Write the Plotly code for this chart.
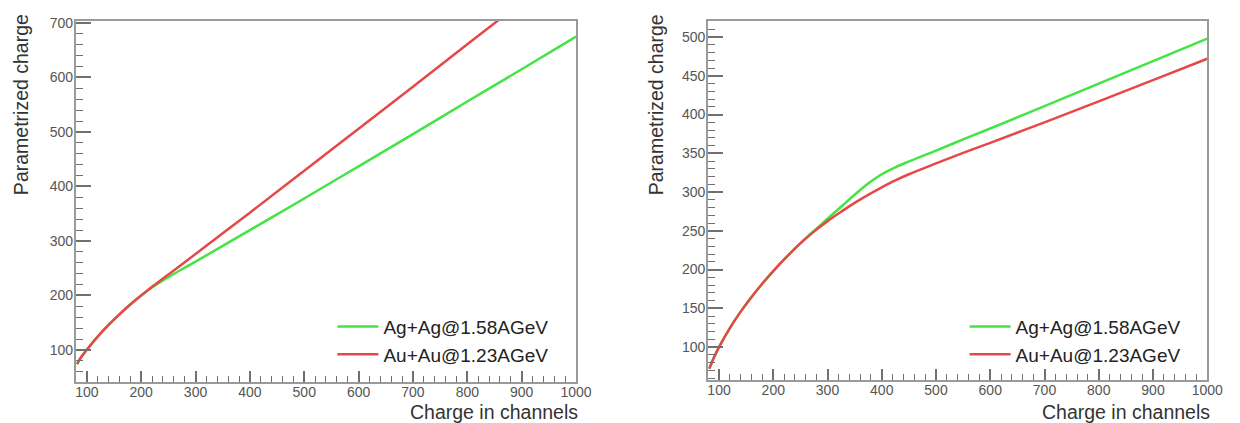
import plotly.graph_objects as go

W, H = 1240, 423

# ---------------- data ----------------
left_x = [82, 90, 100, 120, 140, 160, 180, 200, 220, 240, 260, 300, 400, 500, 600, 700, 800, 900, 1000]
left_ag = [74, 87.5, 100.5, 124.5, 146, 165.5, 183.5, 200, 214.5, 227.5, 239.5, 262, 320, 378, 437, 496, 556, 615, 675]
left_au = [74, 87.5, 100.5, 124.5, 146, 165.5, 183.5, 200, 216, 231, 246, 276, 352, 429, 506, 583, 661, 738, 816]

right_x = [82, 90, 100, 120, 140, 160, 180, 200, 225, 250, 275, 300, 325, 350, 375, 400, 425, 450,
           500, 550, 600, 700, 800, 900, 1000]
right_ag = [72, 85.6, 100, 124.5, 145.7, 164.7, 182.1, 198.1, 216.6, 234, 250, 265.5, 281, 296.5, 311,
            323, 332, 339.5, 353.5, 368, 382, 411, 440, 469, 498]
right_au = [72, 85.6, 100, 124.5, 145.7, 164.7, 182.1, 198.1, 216.6, 233.8, 249, 262.5, 274.5, 286, 296.4,
            306, 315, 323, 337, 350.5, 363.5, 390, 417, 444.5, 472]

label_ag = "Ag+Ag@1.58AGeV"
label_au = "Au+Au@1.23AGeV"
x_title = "Charge in channels"
y_title = "Parametrized charge"

GREEN = "#44e444"
RED = "#e64848"
FONT = "Liberation Sans, Arial, sans-serif"

fig = go.Figure()

def add(x, y, name, color, xa, ya, leg):
    fig.add_trace(go.Scatter(x=x, y=y, mode="lines", name=name,
                             line=dict(color=color, width=2.5, shape="spline", smoothing=1.0),
                             xaxis=xa, yaxis=ya, legend=leg, showlegend=True))

add(left_x, left_ag, label_ag, GREEN, "x", "y", "legend")
add(left_x, left_au, label_au, RED, "x", "y", "legend")
add(right_x, right_ag, label_ag, GREEN, "x2", "y2", "legend2")
add(right_x, right_au, label_au, RED, "x2", "y2", "legend2")

AX = "#9a9a9a"
TICKC = "#707070"

def xaxis(domain, anchor):
    return dict(domain=domain, anchor=anchor, range=[80, 1000], tick0=0, dtick=100,
                ticks="inside", ticklen=11, tickwidth=1.5, tickcolor=TICKC,
                showline=True, linecolor=AX, linewidth=2, mirror=True,
                showgrid=False, zeroline=False, ticklabelstandoff=-3,
                tickfont=dict(family=FONT, size=14, color="#555555"),
                minor=dict(ticks="inside", ticklen=6, dtick=20, tickwidth=1.2,
                           tickcolor=TICKC, showgrid=False))

def yaxis(domain, anchor, rng, dt, mdt):
    return dict(domain=domain, anchor=anchor, range=rng, tick0=0, dtick=dt,
                ticks="inside", ticklen=15, tickwidth=1.5, tickcolor=TICKC,
                showline=True, linecolor=AX, linewidth=2, mirror=True,
                showgrid=False, zeroline=False, ticklabelstandoff=-2,
                tickfont=dict(family=FONT, size=14, color="#555555"),
                minor=dict(ticks="inside", ticklen=7, dtick=mdt, tickwidth=1.2,
                           tickcolor=TICKC, showgrid=False))

def px(xp):
    return xp / W

def py(yp):
    return 1 - yp / H

leg_common = dict(xanchor="left", yanchor="top", bgcolor="rgba(0,0,0,0)", borderwidth=0,
                  font=dict(family=FONT, size=19, color="#222222"), tracegroupgap=0,
                  itemwidth=41)

fig.update_layout(
    width=W, height=H, margin=dict(l=0, r=0, t=0, b=0),
    paper_bgcolor="white", plot_bgcolor="white",
    font=dict(family=FONT),
    xaxis=xaxis([px(76), px(583)], "y"),
    yaxis=yaxis([py(381), py(15)], "x", [42, 704], 100, 20),
    xaxis2=xaxis([px(717), px(1223)], "y2"),
    yaxis2=yaxis([py(379), py(15)], "x2", [58, 521], 50, 10),
    legend=dict(x=px(336), y=py(306), **leg_common),
    legend2=dict(x=px(977), y=py(306), **leg_common),
)

ann_font = dict(family=FONT, size=19.5, color="#333333")
fig.add_annotation(text=x_title, xref="paper", yref="paper", x=px(587), y=py(412),
                   xanchor="right", yanchor="middle", showarrow=False, font=ann_font)
fig.add_annotation(text=x_title, xref="paper", yref="paper", x=px(1228), y=py(412),
                   xanchor="right", yanchor="middle", showarrow=False, font=ann_font)
fig.add_annotation(text=y_title, xref="paper", yref="paper", x=px(21), y=py(6),
                   xanchor="center", yanchor="top", textangle=-90, showarrow=False, font=ann_font)
fig.add_annotation(text=y_title, xref="paper", yref="paper", x=px(665), y=py(6),
                   xanchor="center", yanchor="top", textangle=-90, showarrow=False, font=ann_font)

fig.write_html("out.html")
